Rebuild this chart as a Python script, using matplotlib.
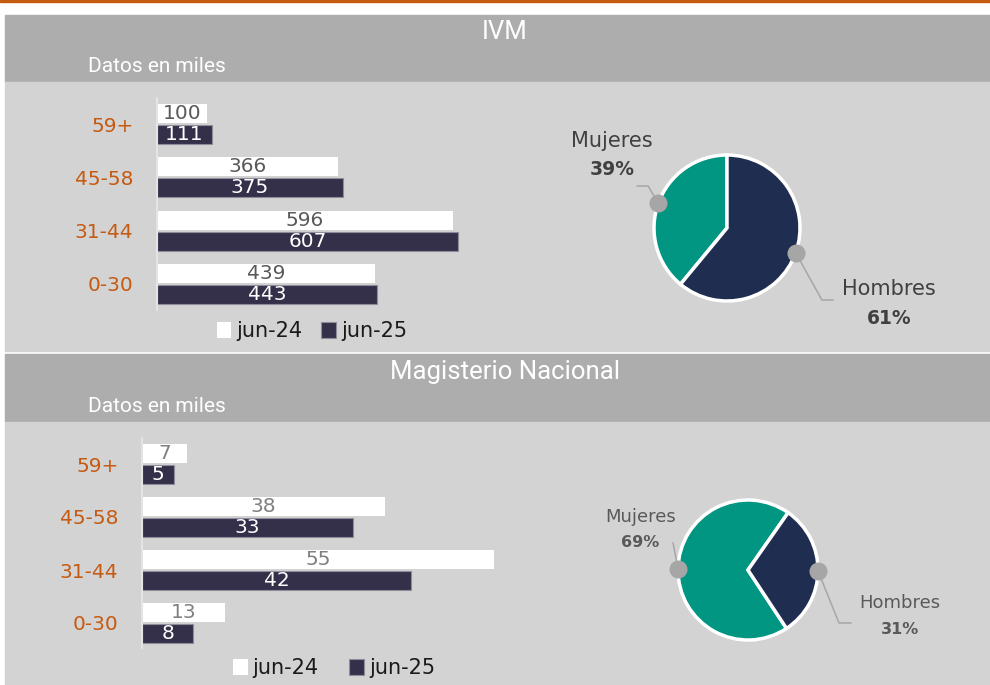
import numpy as np
import matplotlib
matplotlib.use("Agg")
import matplotlib.pyplot as plt
from matplotlib.patches import Rectangle

plt.rcParams['font.family'] = ['DejaVu Sans']

# data
age_groups = ['59+', '45-58', '31-44', '0-30']
periods = ['jun-24', 'jun-25']
ivm_jun24 = [100, 366, 596, 439]
ivm_jun25 = [111, 375, 607, 443]
mag_jun24 = [7, 38, 55, 13]
mag_jun25 = [5, 33, 42, 8]
sexes = ['Mujeres', 'Hombres']
ivm_sex = [39, 61]
mag_sex = [69, 31]
titles = ['IVM', 'Magisterio Nacional']
subtitle = 'Datos en miles'

W, H = 990, 685
fig = plt.figure(figsize=(W/100, H/100), dpi=100)
fig.patch.set_facecolor('white')

def fx(x): return x/W
def fy(y): return 1 - y/H
def rect(x0, y0, x1, y1, color):
    fig.patches.append(Rectangle((fx(x0), fy(y1)), (x1-x0)/W, (y1-y0)/H,
                                 transform=fig.transFigure, color=color, zorder=-5))
def add_ax(x0, y0, x1, y1):
    ax = fig.add_axes([fx(x0), fy(y1), (x1-x0)/W, (y1-y0)/H])
    ax.set_zorder(2)
    return ax

ORANGE = '#c55a11'
GREY_HDR = '#adadad'
GREY_BODY = '#d3d3d3'
DARK = '#34304a'
TEAL = '#009682'
NAVY = '#1f2d50'
LEADER = '#a6a6a6'

rect(0, 0, W, 2, ORANGE)
rect(5, 15, W, 82, GREY_HDR)
rect(5, 82, W, 351, GREY_BODY)
rect(5, 354, W, 422, GREY_HDR)
rect(5, 422, W, H, GREY_BODY)

for title, ytitle, ysub in [(titles[0], 32, 66), (titles[1], 372, 406)]:
    fig.text(fx(505), fy(ytitle), title, color='white', fontsize=18.5, family='Roboto',
             ha='center', va='center')
    fig.text(fx(88), fy(ysub), subtitle, color='white', fontsize=15, family='Roboto',
             ha='left', va='center')

def bar_panel(x0, top, bottom, scale, centre0, spacing, v24, v25, lbl24, leg_xy, colsp):
    width_px = 380
    ax = add_ax(x0, top, x0 + width_px, bottom)
    ax.set_facecolor('none')
    y = np.arange(len(age_groups))
    off, h = 10.5/spacing, 19/spacing
    b1 = ax.barh(y - off, v24, height=h, color='white', label=periods[0])
    b2 = ax.barh(y + off, v25, height=h, color=DARK, edgecolor='#8c8c9a', linewidth=0.8,
                 label=periods[1])
    ax.bar_label(b1, label_type='center', color=lbl24, fontsize=14.5)
    ax.bar_label(b2, label_type='center', color='white', fontsize=14.5)
    ax.set_xlim(0, width_px/scale)
    ax.set_ylim((bottom - centre0)/spacing, (top - centre0)/spacing)
    for s in ['top', 'right', 'bottom']:
        ax.spines[s].set_visible(False)
    ax.spines['left'].set_color('#e4e4e4')
    ax.spines['left'].set_linewidth(1.5)
    ax.set_xticks([])
    ax.set_yticks(y)
    ax.set_yticklabels(age_groups, color=ORANGE, fontsize=14.5)
    ax.tick_params(axis='y', length=0, pad=17)
    fig.legend(handles=[b1, b2], labels=periods, loc='center',
               bbox_to_anchor=(fx(leg_xy[0]), fy(leg_xy[1])), ncol=2, frameon=False,
               handlelength=0.7, handleheight=0.8, handletextpad=0.25,
               columnspacing=colsp, labelcolor='#1a1a1a', prop={'size': 15})
    return ax

bar_panel(157, 98, 310, 301/607, 124, 53.3, ivm_jun24, ivm_jun25, '#595959', (312, 331), 0.9)
bar_panel(142, 438, 648, 352/55, 464, 53.0, mag_jun24, mag_jun25, '#808080', (334, 668), 1.45)

def pie_panel(cx, cy, r, vals, fs, tcolor, start, geom):
    ax = add_ax(cx - r, cy - r, cx + r, cy + r)
    wedges, _ = ax.pie(vals, colors=[TEAL, NAVY], startangle=start, counterclock=True,
                       radius=1, wedgeprops=dict(edgecolor='white', linewidth=2.5))
    ax.set_xlim(-1, 1)
    ax.set_ylim(-1, 1)
    ax.set_aspect('auto')
    for w, name, v, g in zip(wedges, sexes, vals, geom):
        mid = np.deg2rad((w.theta1 + w.theta2) / 2)
        dx, dy = np.cos(mid), np.sin(mid)
        pts = [(dx, dy)] + g['line']
        ax.plot([p[0] for p in pts], [p[1] for p in pts], color=LEADER, lw=1.1,
                clip_on=False, zorder=3)
        ax.plot(dx, dy, 'o', color=LEADER, ms=13, mec='none', clip_on=False, zorder=4)
        ax.text(g['text'][0], g['text'][1], name, ha='center', va='center',
                fontsize=fs, color=tcolor)
        ax.text(g['text'][0], g['text'][2], f'{v}%', ha='center', va='center',
                fontsize=fs - 1.5, color=tcolor, fontweight='bold')

pie_panel(727, 228, 73, ivm_sex, 15, '#404040', 90,
          [dict(line=[(-1.08, 0.575), (-1.23, 0.575)], text=(-1.575, 1.19, 0.795)),
           dict(line=[(1.30, -0.986), (1.45, -0.986)], text=(2.22, -0.836, -1.233))])
pie_panel(748, 570, 70, mag_sex, 13, '#595959', 55,
          [dict(line=[(-1.07, 0.386)], text=(-1.54, 0.757, 0.386)),
           dict(line=[(1.30, -0.757), (1.47, -0.757)], text=(2.17, -0.47, -0.843))])

fig.savefig('out.png', dpi=100, facecolor='white')
